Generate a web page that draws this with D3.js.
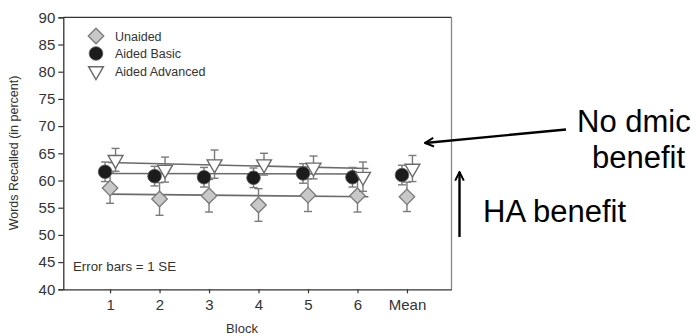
<!DOCTYPE html>
<html>
<head>
<meta charset="utf-8">
<script src="https://cdn.jsdelivr.net/npm/d3@7"></script>
<style>
body{margin:0;background:#fff;}
svg{display:block;font-family:Arial,"Liberation Sans",sans-serif;}
</style>
</head>
<body>
<svg id="chart" width="699" height="336"></svg>
<script>
// data
var blocks = ["1","2","3","4","5","6","Mean"];
var unaided = [58.6,56.6,57.2,55.5,57.3,57.2,57.0];
var unaidedSE = [2.8,3.0,3.0,3.0,3.0,3.0,2.7];
var basic = [61.6,60.8,60.6,60.5,61.3,60.6,61.0];
var basicSE = [1.8,1.8,1.8,1.8,1.8,1.8,1.8];
var advanced = [63.8,62.0,63.0,63.0,62.4,60.7,62.2];
var advancedSE = [2.1,2.3,2.6,2.0,2.1,2.7,2.4];
// fitted lines over blocks 1-6 (start, end)
var trendUnaided = [57.5,57.0];
var trendBasic = [61.3,61.2];
var trendAdvanced = [63.3,62.2];
var yTicks = [40,45,50,55,60,65,70,75,80,85,90];

var svg = d3.select("#chart");
var x = d3.scaleLinear().domain([0.055,7.9]).range([63.3,451.5]);
var y = d3.scaleLinear().domain([40,90]).range([289.3,17.3]);

// frame top + right
svg.append("line").attr("x1",63.3).attr("x2",451.5).attr("y1",17.3).attr("y2",17.3)
	.attr("stroke","#333").attr("stroke-width",1.3);
svg.append("line").attr("x1",451.5).attr("x2",451.5).attr("y1",17.3).attr("y2",289.3)
	.attr("stroke","#888").attr("stroke-width",1.3);

var yAxis = svg.append("g").attr("transform","translate(63.3,0)")
	.call(d3.axisLeft(y).tickValues(yTicks).tickSize(5).tickPadding(3));
var xAxis = svg.append("g").attr("transform","translate(0,289.3)")
	.call(d3.axisBottom(x).tickValues(d3.range(1,8)).tickFormat(function(d){return blocks[d-1];}).tickSize(4).tickPadding(6).tickSizeOuter(0));
[yAxis,xAxis].forEach(function(a){
	a.select(".domain").attr("stroke","#333").attr("stroke-width",1.3);
	a.selectAll(".tick line").attr("stroke","#333").attr("stroke-width",1.2);
	a.selectAll("text").attr("fill","#333").attr("font-size",15).attr("font-family","Arial,'Liberation Sans',sans-serif");
});

svg.append("text").attr("transform","translate(18,153) rotate(-90)")
	.attr("text-anchor","middle").attr("font-size",12.5).attr("fill","#333")
	.text("Words Recalled (in percent)");
svg.append("text").attr("x",242).attr("y",333).attr("text-anchor","middle")
	.attr("font-size",13).attr("fill","#333").text("Block");
svg.append("text").attr("x",73).attr("y",271).attr("font-size",13.3).attr("fill","#333")
	.text("Error bars = 1 SE");

// trend lines
var trends = [trendAdvanced,trendBasic,trendUnaided];
svg.selectAll(".trend").data(trends).enter().append("line").attr("class","trend")
	.attr("x1",x(0.96)).attr("x2",x(6.22))
	.attr("y1",function(d){return y(d[0]);}).attr("y2",function(d){return y(d[1]);})
	.attr("stroke","#6a6a6a").attr("stroke-width",1.6);

var series = [
	{vals:unaided, se:unaidedSE, dx:0, kind:"diamond"},
	{vals:basic, se:basicSE, dx:-5, kind:"circle"},
	{vals:advanced, se:advancedSE, dx:5.5, kind:"triangle"}
];

function marker(g,kind,cx,cy){
	if(kind=="diamond"){
		g.append("path").attr("d",d3.symbol().type(d3.symbolSquare).size(120)())
			.attr("transform","translate("+cx+","+cy+") rotate(45)")
			.attr("fill","#c8c8c8").attr("stroke","#7a7a7a").attr("stroke-width",1.3);
	}else if(kind=="circle"){
		g.append("circle").attr("cx",cx).attr("cy",cy).attr("r",6.8)
			.attr("fill","#1c1c1c").attr("stroke","#555").attr("stroke-width",0.8);
	}else{
		g.append("path").attr("d",d3.symbol().type(d3.symbolTriangle).size(95)())
			.attr("transform","translate("+cx+","+cy+") rotate(180)")
			.attr("fill","#fff").attr("stroke","#6a6a6a").attr("stroke-width",1.4);
	}
}

series.forEach(function(s){
	var g = svg.append("g");
	s.vals.forEach(function(v,i){
		var cx = x(i+1)+s.dx;
		var eg = g.append("g").attr("stroke","#7a7a7a").attr("stroke-width",1.4);
		eg.append("line").attr("x1",cx).attr("x2",cx).attr("y1",y(v-s.se[i])).attr("y2",y(v+s.se[i]));
		[v-s.se[i],v+s.se[i]].forEach(function(e){
			eg.append("line").attr("x1",cx-4).attr("x2",cx+4).attr("y1",y(e)).attr("y2",y(e));
		});
	});
	s.vals.forEach(function(v,i){
		marker(g,s.kind,x(i+1)+s.dx,y(v));
	});
});

// legend
var legendNames = ["Unaided","Aided Basic","Aided Advanced"];
var legendKinds = ["diamond","circle","triangle"];
legendNames.forEach(function(n,i){
	var ly = 36 + i*17.5;
	marker(svg,legendKinds[i],96,ly);
	svg.append("text").attr("x",115).attr("y",ly+4.5).attr("font-size",12.5).attr("fill","#333").text(n);
});

// annotations
svg.append("defs").append("marker").attr("id","ah").attr("viewBox","0 0 10 10")
	.attr("refX",9).attr("refY",5).attr("markerWidth",4.5).attr("markerHeight",4.5)
	.attr("orient","auto").attr("markerUnits","strokeWidth")
	.append("path").attr("d","M1,1 L9,5 L1,9").attr("fill","none").attr("stroke","#000").attr("stroke-width",1.8);
svg.append("line").attr("x1",566).attr("y1",129.5).attr("x2",425).attr("y2",143)
	.attr("stroke","#000").attr("stroke-width",2.4).attr("marker-end","url(#ah)");
svg.append("line").attr("x1",459.5).attr("y1",237).attr("x2",459.5).attr("y2",172)
	.attr("stroke","#000").attr("stroke-width",2.4).attr("marker-end","url(#ah)");

var ann = svg.append("g").attr("font-size",31).attr("fill","#000");
ann.append("text").attr("x",577).attr("y",131.5).text("No dmic");
ann.append("text").attr("x",592).attr("y",167.5).text("benefit");
ann.append("text").attr("x",483).attr("y",221.5).text("HA benefit");
</script>
</body>
</html>
